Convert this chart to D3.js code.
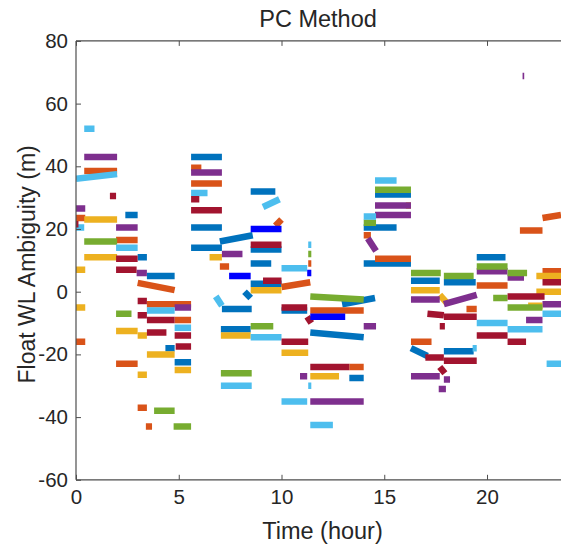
<!DOCTYPE html>
<html>
<head>
<meta charset="utf-8">
<script src="https://cdn.jsdelivr.net/npm/d3@7"></script>
<style>
  html, body { margin: 0; padding: 0; background: #fff; }
  svg { display: block; }
  text { font-family: "Liberation Sans", Arial, Helvetica, sans-serif; fill: #262626; }
</style>
</head>
<body>
<svg id="chart" width="561" height="544"></svg>
<script>
// ---- Data: each arc = [startHour, endHour, valueAtStart, valueAtEnd] (metres) ----
const title = "PC Method";
const xLabel = "Time (hour)";
const yLabel = "Float WL Ambiguity (m)";
const xTicks = [0, 5, 10, 15, 20];
const yTicks = [-60, -40, -20, 0, 20, 40, 60, 80];

const blueArcs = [
  [2.4,3.0,24.5,24.5],[3.0,3.45,11,11],[3.45,4.8,5,5],[4.35,4.8,-18,-18],[4.8,5.6,-22.5,-22.5],
  [5.6,7.1,43,43],[5.6,7.1,20.5,20.5],[5.6,7.1,14,14],[7.0,8.6,16,18],[8.5,9.7,32,32],
  [8.5,10,13.5,13.5],[8.5,9.5,9,9],[8.5,10,2.5,2.5],[8.2,8.5,0,-2],[7.1,8.55,-5.5,-5.5],
  [10,11.25,-6,-6],[7.05,8.5,-12,-12],[11.4,14,-13,-14.5],[12.95,14.55,-4,-2],[13.3,14,-27.5,-27.5],
  [14,15.6,20.5,20.5],[14.55,16.3,31,31],[14,16.3,9,9],[16.3,17.7,3.5,3.5],[17.9,19.45,3,3],
  [16.3,17.1,-18,-20.5],[17.9,19.35,-19,-19],[19.5,20.9,11,11]
];
const orangeArcs = [
  [0,0.45,23.5,23.5],[0.4,2.0,38.5,38.5],[0,0.45,-16,-16],[1.95,3.0,16.5,16.5],[3.0,4.8,2.8,0.5],
  [3.45,5.6,-4,-4],[4.8,5.6,-9,-9],[1.95,3.0,-23,-23],[3.0,3.45,-37,-37],[3.4,3.7,-43,-43],
  [5.6,6.1,39.5,39.5],[5.6,7.1,34.5,34.5],[7.0,7.45,8,8],[9.7,10.0,21,23],[10,11.4,1.5,3],
  [11.3,11.45,9,9],[11.4,14,-6,-6],[13.3,14,-24,-24],[14,14.35,18,18],[14.55,16.3,10.5,10.5],
  [16.3,17.3,-16,-16],[19,19.5,-5.5,-5.5],[19.5,21,2,2],[21.6,22.7,19.5,19.5],[22.7,23.6,23.5,24.5],
  [22.7,23.6,6.5,6.5]
];
const yellowArcs = [
  [0.4,2.0,23,23],[0.4,2.0,11,11],[0,0.45,7,7],[0,0.45,-5,-5],[1.95,3.0,-12.5,-12.5],
  [3.0,3.45,-14,-14],[3.45,4.8,-20,-20],[4.8,5.6,-25,-25],[3.0,3.45,-26.5,-26.5],[6.5,7.1,11,11],
  [8.5,10,0.5,0.5],[7.05,8.5,-14,-14],[10,11.3,-19.5,-19.5],[11.4,12.8,-27,-27],[16.05,16.3,27.5,27.5],
  [16.3,17.7,0.5,0.5],[17.7,18.1,-1,-4],[22.4,23.6,5,5],[22.4,23.6,0,0],[22.0,22.7,-4.5,-4.5]
];
const purpleArcs = [
  [0.4,2.0,43,43],[0,0.45,26.5,26.5],[1.95,3.0,20.5,20.5],[2.95,3.45,6,6],[4.8,5.6,-5,-5],
  [5.6,7.1,38,38],[7.1,8.1,12,12],[10.9,11.25,-27,-27],[11.4,14,-35,-35],[14,14.6,-11,-11],
  [14.2,14.6,17,13],[14.55,16.3,27.5,27.5],[14.55,16.3,24.5,24.5],[16.3,17.7,-2.5,-2.5],
  [16.3,17.7,-27,-27],[17.9,19.5,-4,-1],[17.9,18.2,-28,-28],[17.65,18.0,-31,-31],[19.5,21,6.5,6.5],
  [21,21.8,4.5,4.5],[21.9,22.7,-9,-9],[22.7,23.6,-4,-4],[21.73,21.81,68.8,68.8]
];
const greenArcs = [
  [0.4,2.0,16,16],[1.95,2.7,-7,-7],[3.8,4.8,-38,-38],[4.75,5.6,-43,-43],[8.5,9.6,-11,-11],
  [7.05,8.55,-26,-26],[11.3,11.45,12,12],[11.4,14,-1.5,-2.5],[14,14.6,22,22],[14.55,16.3,32.5,32.5],
  [16.3,17.75,6,6],[17.9,19.35,5,5],[19.5,21,8,8],[21,21.95,6,6],[20.3,21.0,-2,-2],[21,22.7,-5,-5]
];
const lightBlueArcs = [
  [0.4,0.9,52,52],[0,2.0,36,37.5],[0,0.4,20.5,20.5],[1.95,3.0,14,14],[3.45,4.8,-6,-6],
  [4.8,5.6,-11.5,-11.5],[5.6,6.4,31.5,31.5],[9.1,9.9,27,29.5],[11.3,11.45,15,15],[10,11.25,7.5,7.5],
  [6.8,7.1,-1.5,-4.5],[8.5,10,-14.5,-14.5],[7.05,8.55,-30,-30],[10,11.25,-35,-35],[11.4,12.5,-42.5,-42.5],
  [11.3,11.45,-30,-30],[14,14.6,24,24],[14.55,15.6,35.5,35.5],[19.5,21,-10,-10],[21,22.7,-12,-12],
  [22.7,23.6,-7,-7],[22.9,23.6,-23,-23],[19.3,19.5,-18,-18]
];
const darkRedArcs = [
  [1.65,1.95,30.5,30.5],[1.95,3.0,10.5,10.5],[1.95,2.95,7,7],[3.0,3.45,-3,-3],[3.0,3.45,-7.5,-7.5],
  [3.45,4.8,-9,-9],[3.45,4.4,-13,-13],[4.8,5.6,-14,-14],[4.85,5.6,-17.5,-17.5],[5.6,6.0,29.5,29.5],
  [5.6,7.1,26,26],[8.5,10,15,15],[9.1,10,3.5,3.5],[10,11.25,-5,-5],[11.25,11.45,-8,-10],
  [10,11.3,-16,-16],[11.4,13.3,-24,-24],[17.1,17.9,-7,-7.5],[17.9,19.5,-8,-8],[17.7,17.95,-11,-11],
  [17.0,17.9,-21,-21],[17.9,19.5,-22,-22],[17.7,17.95,-24,-26],[19.5,21,-14,-14],[21,21.9,-16,-16],
  [21,22.8,-1.5,-1.5],[22.7,23.6,3,3],[0,0.12,21.5,21.5]
];
const brightBlueArcs = [
  [7.45,8.5,5,5],[8.5,10,20,20],[11.25,11.45,6,6],[11.4,13.1,-8,-8]
];

const seriesNames = ["blue","orange","yellow","purple","green","lightblue","darkred","brightblue"];
const seriesColors = ["#0072BD","#D95319","#EDB120","#7E2F8E","#77AC30","#4DBEEE","#A2142F","#0000FF"];
const seriesArcs = [blueArcs, orangeArcs, yellowArcs, purpleArcs, greenArcs, lightBlueArcs, darkRedArcs, brightBlueArcs];

// ---- Layout ----
const W = 561, H = 544;
const mLeft = 76, mRight = 561, mTop = 40.9, mBottom = 479.8;
const svg = d3.select("#chart");

const x = d3.scaleLinear().domain([0, 23.6]).range([mLeft, mRight]);
const y = d3.scaleLinear().domain([-60, 80]).range([mBottom, mTop]);

svg.append("rect").attr("width", W).attr("height", H).attr("fill", "#fff");

svg.append("clipPath").attr("id", "clip").append("rect")
  .attr("x", mLeft).attr("y", mTop).attr("width", mRight - mLeft).attr("height", mBottom - mTop);

const plot = svg.append("g").attr("clip-path", "url(#clip)");

seriesArcs.forEach((arcs, i) => {
  plot.append("g").attr("class", "series-" + seriesNames[i])
    .selectAll("line").data(arcs).join("line")
    .attr("x1", d => x(d[0])).attr("x2", d => x(d[1]))
    .attr("y1", d => y(d[2])).attr("y2", d => y(d[3]))
    .attr("stroke", seriesColors[i])
    .attr("stroke-width", 6.5)
    .attr("stroke-linecap", "butt");
});

// ---- Axes ----
const axisColor = "#4d4d4d";
const fmt = d => String(d);   // plain hyphen-minus like the reference
const xAxis = d3.axisBottom(x).tickValues(xTicks).tickFormat(fmt)
  .tickSizeInner(-5).tickSizeOuter(0).tickPadding(10);
const gx = svg.append("g").attr("transform", `translate(0,${mBottom})`).call(xAxis);
gx.select(".domain").remove();
gx.selectAll("line").attr("stroke", axisColor);
gx.selectAll("text").attr("font-size", 20.5).style("fill", "#262626")
  .attr("font-family", "Liberation Sans, Arial, sans-serif");

const xAxisTop = d3.axisTop(x).tickValues(xTicks).tickFormat("").tickSizeInner(-5).tickSizeOuter(0);
const gxt = svg.append("g").attr("transform", `translate(0,${mTop})`).call(xAxisTop);
gxt.select(".domain").remove();
gxt.selectAll("line").attr("stroke", axisColor);

const yAxis = d3.axisLeft(y).tickValues(yTicks).tickFormat(fmt)
  .tickSizeInner(-5).tickSizeOuter(0).tickPadding(8);
const gy = svg.append("g").attr("transform", `translate(${mLeft},0)`).call(yAxis);
gy.select(".domain").remove();
gy.selectAll("line").attr("stroke", axisColor);
gy.selectAll("text").attr("font-size", 20.5).style("fill", "#262626")
  .attr("font-family", "Liberation Sans, Arial, sans-serif");

svg.append("line").attr("x1", mLeft).attr("x2", mRight).attr("y1", mTop).attr("y2", mTop)
  .attr("stroke", axisColor).attr("stroke-width", 1.2);
svg.append("line").attr("x1", mLeft).attr("x2", mRight).attr("y1", mBottom).attr("y2", mBottom)
  .attr("stroke", axisColor).attr("stroke-width", 1.2);
svg.append("line").attr("x1", mLeft).attr("x2", mLeft).attr("y1", mTop).attr("y2", mBottom)
  .attr("stroke", axisColor).attr("stroke-width", 1.2);

// ---- Titles ----
svg.append("text").attr("x", (mLeft + mRight) / 2 - 0.5).attr("y", 27)
  .attr("text-anchor", "middle").attr("font-size", 23.5).text(title);
svg.append("text").attr("x", (mLeft + mRight) / 2 + 4).attr("y", 539)
  .attr("text-anchor", "middle").attr("font-size", 23.5).text(xLabel);
svg.append("text").attr("transform", `translate(35,${(mTop + mBottom) / 2 + 4}) rotate(-90)`)
  .attr("text-anchor", "middle").attr("font-size", 23).text(yLabel);
</script>
</body>
</html>
